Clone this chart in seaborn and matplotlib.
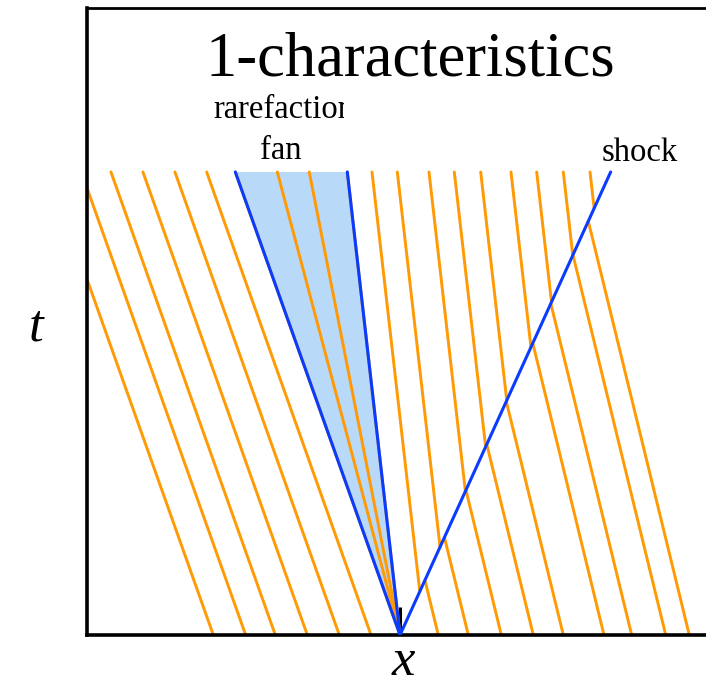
import numpy as np
import pandas as pd
import matplotlib
matplotlib.use("Agg")
import matplotlib.pyplot as plt
import seaborn as sns
from matplotlib.transforms import Bbox

# Characteristics are drawn from t = 0 up to T_END
T_END = 1.0

# Left state: foot of each characteristic at t = 0 and their common speed
left_feet = [-0.4032, -0.3333, -0.2693, -0.2002, -0.1311, -0.0626]
left_speed = -0.355

# Rarefaction fan: speeds of rays from the origin (first and last are the fan edges)
fan_speeds = [-0.3557, -0.265, -0.196, -0.1138]

# Middle state (between fan and shock): position at t = T_END and speed
mid_tops = [-0.0605, -0.0058, 0.0626, 0.1173, 0.1743, 0.2397, 0.2952, 0.3527, 0.4104]
mid_speed = -0.114

# Right state: foot at t = 0 and speed
right_feet = [0.0827, 0.1475, 0.2188, 0.2879, 0.3527, 0.4406, 0.5004, 0.5739, 0.6248]
right_speed = -0.244

# Shock speed (shock starts at the origin)
shock_speed = 0.455

ORANGE = "#FF9A05"
BLUE = "#0A3CFF"
FAN_FILL = "#B9D9F9"

# Build one long table of line segments (two end points each)
rows = []
def seg(name, kind, x0, t0, x1, t1):
    rows.append(dict(seg=name, kind=kind, x=x0, t=t0))
    rows.append(dict(seg=name, kind=kind, x=x1, t=t1))

for i, x0 in enumerate(left_feet):
    seg(f"L{i}", "char", x0, 0.0, x0 + left_speed * T_END, T_END)
for i, s in enumerate(fan_speeds):
    seg(f"F{i}", "char", 0.0, 0.0, s * T_END, T_END)
for i, xt in enumerate(mid_tops):
    ts = (xt - mid_speed * T_END) / (shock_speed - mid_speed)
    seg(f"M{i}", "char", shock_speed * ts, ts, xt, T_END)
for i, x0 in enumerate(right_feet):
    ts = min(x0 / (shock_speed - right_speed), T_END)
    seg(f"R{i}", "char", x0, 0.0, x0 + right_speed * ts, ts)

seg("fanL", "wave", 0.0, 0.0, fan_speeds[0] * T_END, T_END)
seg("fanR", "wave", 0.0, 0.0, fan_speeds[-1] * T_END, T_END)
seg("shock", "wave", 0.0, 0.0, shock_speed * T_END, T_END)

df = pd.DataFrame(rows)

sns.set_theme(style="white")
plt.rcParams["font.family"] = ["Liberation Serif", "DejaVu Serif"]

W, H = 706, 685
fig = plt.figure(figsize=(W / 100, H / 100), dpi=100)
ax = fig.add_axes([87 / W, 50 / H, (W - 87) / W, (635 - 8) / H])

# Fan region
ax.fill([0.0, fan_speeds[0] * T_END, fan_speeds[-1] * T_END],
        [0.0, T_END, T_END], color=FAN_FILL, lw=0, zorder=1)

sns.lineplot(data=df[df.kind == "char"], x="x", y="t", units="seg",
             estimator=None, sort=False, color=ORANGE, linewidth=2.1,
             ax=ax, legend=False, zorder=2)
sns.lineplot(data=df[df.kind == "wave"], x="x", y="t", units="seg",
             estimator=None, sort=False, color=BLUE, linewidth=2.2,
             ax=ax, legend=False, zorder=3)

ax.set_xlim((87 - 400) / 463, (706 - 400) / 463)
ax.set_ylim(0, (635 - 8) / 463)
ax.set_xlabel("")
ax.set_ylabel("")
ax.set_yticks([])
ax.set_xticks([0.0])
ax.set_xticklabels([""])
ax.tick_params(axis="x", direction="in", length=20, width=2.2,
               colors="black", bottom=True, top=False, pad=0)

for side in ["left", "bottom"]:
    ax.spines[side].set_linewidth(2.6)
    ax.spines[side].set_color("black")
ax.spines["top"].set_linewidth(2.0)
ax.spines["top"].set_color("black")
ax.spines["right"].set_visible(False)

def fx(px):
    return px / W

def fy(py):
    return 1 - py / H

fig.text(fx(410), fy(75), "1-characteristics", fontsize=45,
         ha="center", va="baseline", color="black")
rare = fig.text(fx(213), fy(118), "rarefaction", fontsize=23.5,
                ha="left", va="baseline", color="black")
rare.set_clip_box(Bbox.from_extents(0, 0, 344, H))
rare.set_clip_on(True)
fig.text(fx(281), fy(159), "fan", fontsize=23.5, ha="center",
         va="baseline", color="black")
fig.text(fx(640), fy(161), "shock", fontsize=23.5, ha="center",
         va="baseline", color="black")
fig.text(fx(36), fy(340), "t", fontsize=38, style="italic",
         ha="center", va="baseline", color="black")
fig.text(fx(403), fy(675), "x", fontsize=38, style="italic",
         ha="center", va="baseline", color="black")

fig.savefig("out.png", dpi=100)
